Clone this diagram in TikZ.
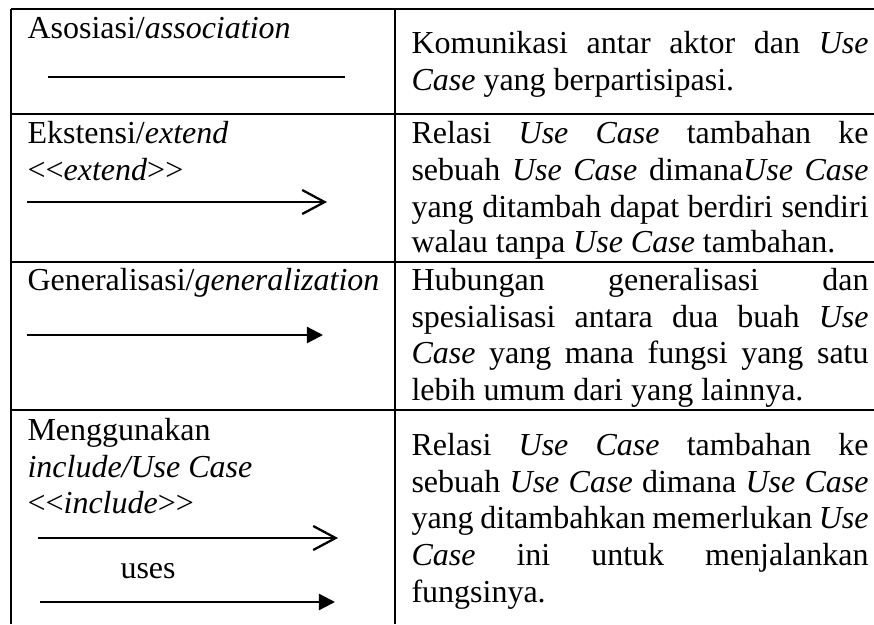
\documentclass[tikz,border=0pt]{standalone}
\usepackage{fontspec}
\setmainfont{Liberation Serif}
\usetikzlibrary{arrows.meta}
\newcommand\jline[1]{\makebox[171.4pt][s]{#1}}
\newcommand\llt{<\kern0pt<}
\newcommand\ggt{>\kern0pt>}
\tikzset{
  grid/.style={line width=0.85pt},
  txt/.style={anchor=base west, inner sep=0pt, font=\fontsize{12pt}{13.8pt}\selectfont},
  conn/.style={line width=0.85pt},
  openarr/.style={conn, -{Straight Barb[length=8.4pt,width=9pt]}},
  fillarr/.style={conn, -{Triangle[length=6pt,width=6pt]}}
}
\begin{document}
\begin{tikzpicture}[x=0.375pt,y=-0.375pt]
\useasboundingbox (0,0) rectangle (874,624);
% grid
\draw[grid] (11,9) -- (874,9);
\draw[grid] (11,114) -- (874,114);
\draw[grid] (11,262) -- (874,262);
\draw[grid] (11,410) -- (874,410);
\draw[grid] (11,9) -- (11,624);
\draw[grid] (395,9) -- (395,624);
% row 1
\node[txt] (a1) at (27,38) {Asosiasi/\textit{association}};
\coordinate (as1) at (48,77);
\coordinate (as2) at (345,77);
\draw[conn] (as1) -- (as2);
\node[txt] (r1a) at (411,53) {\jline{Komunikasi antar aktor dan \textit{Use}}};
\node[txt] (r1b) at (411,90) {\textit{Case} yang berpartisipasi.};
% row 2
\node[txt] (b1) at (27,143) {Ekstensi/\textit{extend}};
\node[txt] (b2) at (27,180) {\llt\textit{extend}\ggt};
\coordinate (ex1) at (27,202);
\coordinate (ex2) at (327,202);
\draw[openarr] (ex1) -- (ex2);
\node[txt] (r2a) at (411,143) {\jline{Relasi \textit{Use} \textit{Case} tambahan ke}};
\node[txt] (r2b) at (411,180) {\jline{sebuah \textit{Use} \textit{Case} dimana\textit{Use} \textit{Case}}};
\node[txt] (r2c) at (411,217) {\jline{yang ditambah dapat berdiri sendiri}};
\node[txt] (r2d) at (411,252) {walau tanpa \textit{Use Case} tambahan.};
% row 3
\node[txt] (c1) at (27,290) {Generalisasi/\textit{generalization}};
\coordinate (ge1) at (27,335);
\coordinate (ge2) at (323,335);
\draw[fillarr] (ge1) -- (ge2);
\node[txt] (r3a) at (411,290) {\jline{Hubungan generalisasi dan}};
\node[txt] (r3b) at (411,327) {\jline{spesialisasi antara dua buah \textit{Use}}};
\node[txt] (r3c) at (411,363) {\jline{\textit{Case} yang mana fungsi yang satu}};
\node[txt] (r3d) at (411,400) {lebih umum dari yang lainnya.};
% row 4
\node[txt] (d1) at (27,440) {Menggunakan};
\node[txt] (d2) at (27,477) {\textit{include/Use Case}};
\node[txt] (d3) at (27,513) {\llt\textit{include}\ggt};
\coordinate (in1) at (38,538);
\coordinate (in2) at (338,538);
\draw[openarr] (in1) -- (in2);
\node[txt] (d4) at (120,578) {uses};
\coordinate (us1) at (40,602);
\coordinate (us2) at (335,602);
\draw[fillarr] (us1) -- (us2);
\node[txt] (r4a) at (411,455) {\jline{Relasi \textit{Use} \textit{Case} tambahan ke}};
\node[txt] (r4b) at (411,492) {\jline{sebuah \textit{Use} \textit{Case} dimana \textit{Use} \textit{Case}}};
\node[txt] (r4c) at (411,528) {\jline{yang ditambahkan memerlukan \textit{Use}}};
\node[txt] (r4d) at (411,565) {\jline{\textit{Case} ini untuk menjalankan}};
\node[txt] (r4e) at (411,602) {fungsinya.};
\end{tikzpicture}
\end{document}
